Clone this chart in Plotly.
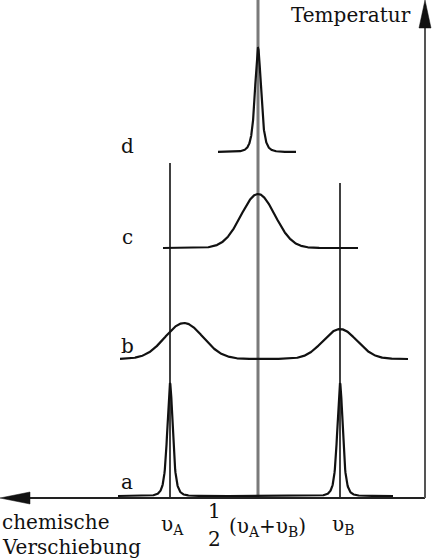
import numpy as np
import plotly.graph_objects as go

# spectra at rising temperature (a = slow exchange ... d = fast exchange)
spec_labels = ["a", "b", "c", "d"]
baselines = [2, 139, 250, 346]
x_start = [118, 120, 163, 218]
x_end = [393, 408, 358, 296]
peak_pos = [[170, 340], [184, 340], [258], [258]]
peak_height = [[113, 113], [36, 30], [54], [104]]
peak_width = [[5.0, 5.0], [19, 17], [17], [5.5]]
peak_shape = ["sharp", "gauss", "gauss", "sharp"]

# reference lines: nu_A, mean, nu_B
ref_x = [170, 258, 340]
ref_top = [335, 498, 315]
ref_color = ["#111111", "#7a7a7a", "#111111"]
ref_width = [1.6, 3, 1.6]

FONT = "DejaVu Serif"
LABEL_X = 127
LABEL_Y = [16, 152, 261, 352]


def line_shape(x, pos, h, w, kind):
    y = np.zeros_like(x)
    for p, hh, ww in zip(pos, h, w):
        if kind == "sharp":
            y += hh / (1 + ((x - p) / ww) ** 2) ** 2
        else:
            y += hh * np.exp(-0.5 * ((x - p) / ww) ** 2)
    return y


fig = go.Figure()

for xr, top, col, lw in zip(ref_x, ref_top, ref_color, ref_width):
    fig.add_trace(go.Scatter(x=[xr, xr], y=[0, top], mode="lines",
                             line=dict(color=col, width=lw)))

for i, lab in enumerate(spec_labels):
    xs = np.linspace(x_start[i], x_end[i], 800)
    ys = baselines[i] + line_shape(xs, peak_pos[i], peak_height[i],
                                   peak_width[i], peak_shape[i])
    fig.add_trace(go.Scatter(x=xs, y=ys, mode="lines",
                             line=dict(color="#111111", width=2.2)))
    fig.add_annotation(x=LABEL_X, y=LABEL_Y[i], text=lab, showarrow=False,
                       font=dict(family=FONT, size=20, color="#111"))

# axes with arrows
fig.add_shape(type="line", x0=425, y0=0, x1=28, y1=0,
              line=dict(color="#222", width=2))
fig.add_shape(type="path", path="M 0,0 L 30,6 L 30,-6 Z",
              fillcolor="#111", line=dict(color="#111", width=0.5))
fig.add_shape(type="line", x0=425, y0=0, x1=425, y1=470,
              line=dict(color="#555", width=2))
fig.add_shape(type="path", path="M 425,498 L 419,470 L 431,470 Z",
              fillcolor="#111", line=dict(color="#111", width=0.5))

txt = dict(family=FONT, size=20, color="#111")
fig.add_annotation(x=351, y=483, text="Temperatur", showarrow=False, font=txt)
fig.add_annotation(x=0, y=-24, text="chemische", showarrow=False, font=txt,
                   xanchor="left")
fig.add_annotation(x=0, y=-49, text="Verschiebung", showarrow=False, font=txt,
                   xanchor="left")
fig.add_annotation(x=172, y=-27, text="υ<sub>A</sub>", showarrow=False, font=txt)
fig.add_annotation(x=343, y=-27, text="υ<sub>B</sub>", showarrow=False, font=txt)
fig.add_annotation(x=214, y=-13, text="1", showarrow=False, font=txt)
fig.add_annotation(x=214, y=-41, text="2", showarrow=False, font=txt)
fig.add_annotation(x=267, y=-29, text="(υ<sub>A</sub>+υ<sub>B</sub>)",
                   showarrow=False, font=txt)

fig.update_layout(width=433, height=560, margin=dict(l=0, r=0, t=0, b=0),
                  paper_bgcolor="white", plot_bgcolor="white", showlegend=False)
fig.update_xaxes(range=[0, 433], visible=False)
fig.update_yaxes(range=[-62, 498], visible=False)

fig.write_html("out.html", config={"displayModeBar": False},
               post_script="document.body.style.margin='0px';")
